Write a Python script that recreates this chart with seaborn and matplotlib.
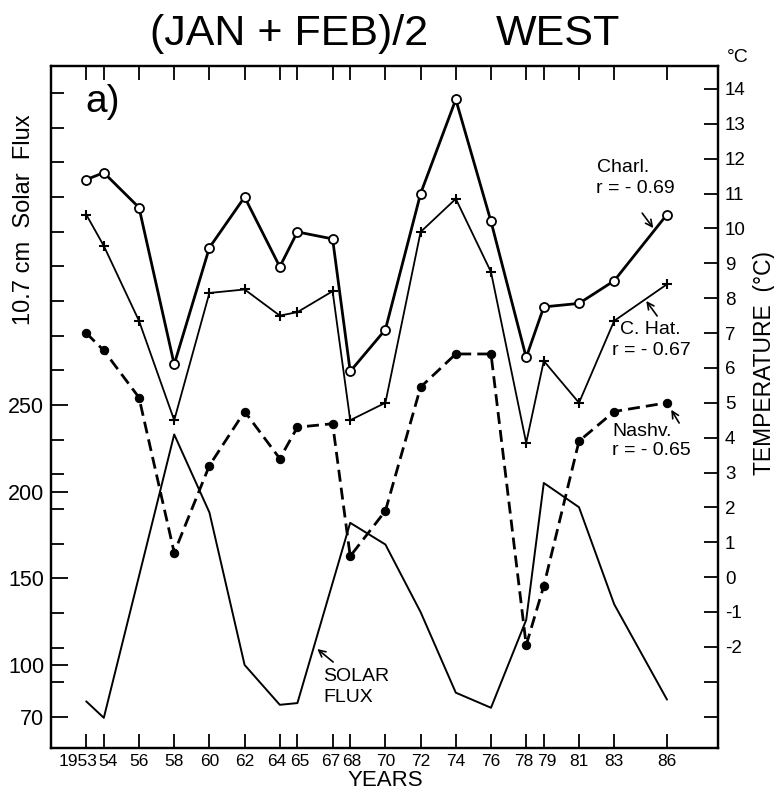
import matplotlib
matplotlib.use("Agg")
import matplotlib.pyplot as plt
from matplotlib.transforms import ScaledTranslation
import seaborn as sns

# temperature stations, (Jan+Feb)/2, deg C
years = [1953, 1954, 1956, 1958, 1960, 1962, 1964, 1965, 1967, 1968,
         1970, 1972, 1974, 1976, 1978, 1979, 1981, 1983, 1986]
charl = [11.4, 11.6, 10.6, 6.1, 9.45, 10.9, 8.9, 9.9, 9.7, 5.9,
         7.1, 11.0, 13.7, 10.2, 6.3, 7.75, 7.85, 8.5, 10.4]
c_hat = [10.4, 9.5, 7.35, 4.5, 8.15, 8.25, 7.5, 7.6, 8.2, 4.5,
         5.0, 9.9, 10.85, 8.75, 3.85, 6.2, 5.0, 7.35, 8.4]
nashv = [7.0, 6.5, 5.15, 0.7, 3.2, 4.75, 3.4, 4.3, 4.4, 0.6,
         1.9, 5.45, 6.4, 6.4, -1.95, -0.25, 3.9, 4.75, 5.0]

# 10.7 cm solar flux
flux_years = [1953, 1954, 1958, 1960, 1962, 1964, 1965, 1968, 1970,
              1972, 1974, 1976, 1978, 1979, 1981, 1983, 1986]
flux = [79, 69.5, 233, 188, 100, 77, 78, 182, 169.5,
        130.5, 84, 75.3, 126, 205, 191, 135, 80]

year_labels = ["1953", "54", "56", "58", "60", "62", "64", "65", "67", "68",
               "70", "72", "74", "76", "78", "79", "81", "83", "86"]
flux_ticks = [70, 100, 150, 200, 250]
temp_ticks = list(range(-4, 15))

sns.set_theme(style="white")
plt.rcParams["font.family"] = ["Liberation Sans", "DejaVu Sans"]
plt.rcParams.update({"text.color": "black", "axes.labelcolor": "black",
                     "xtick.color": "black", "ytick.color": "black"})

fig = plt.figure(figsize=(7.74, 7.91), dpi=100)
ax = fig.add_axes([0.0659, 0.0544, 0.8618, 0.8622])
ax2 = ax.twinx()

# solar flux on the left axis
sns.lineplot(x=flux_years, y=flux, ax=ax, color="black", linewidth=1.4,
             errorbar=None, sort=False)

# temperatures on the right axis
sns.lineplot(x=years, y=charl, ax=ax2, color="black", linewidth=2.0,
             marker="o", markersize=6.5, markerfacecolor="white",
             markeredgecolor="black", markeredgewidth=1.3, errorbar=None, sort=False)
sns.lineplot(x=years, y=c_hat, ax=ax2, color="black", linewidth=1.3,
             marker="+", markersize=7, markeredgewidth=1.5,
             markeredgecolor="black", errorbar=None, sort=False)
sns.lineplot(x=years, y=nashv, ax=ax2, color="black", linewidth=2.0,
             marker="o", markersize=6, markerfacecolor="black",
             markeredgecolor="black", errorbar=None, sort=False)
ax2.lines[-1].set_dashes([4.3, 2.2])

ax.set_xlim(1951.0, 1988.9)
ax.set_ylim(52.1, 445.6)
ax2.set_ylim(-4.9, 14.66)

# x ticks, top and bottom, pointing in
ax.set_xticks(years)
ax.set_xticklabels(year_labels, fontsize=12.5)
ax.tick_params(axis="x", which="major", direction="in", length=10, width=1.3,
               top=True, bottom=True, pad=4, color="black", labelcolor="black")
shifts = {"1953": -8, "54": 4, "64": -3, "65": 2, "67": -2, "68": 2, "78": -2, "79": 3}
for lab in ax.get_xticklabels():
    dx = shifts.get(lab.get_text(), 0)
    if dx:
        lab.set_transform(lab.get_transform() + ScaledTranslation(dx / 100, 0, fig.dpi_scale_trans))

# left axis: labelled major ticks and unlabelled ticks every 20 from 70
ax.set_yticks(flux_ticks)
ax.set_yticklabels([str(t) for t in flux_ticks], fontsize=15.5)
ax.set_yticks([v for v in range(70, 440, 20) if v not in flux_ticks], minor=True)
ax.tick_params(axis="y", which="major", direction="in", length=12.5, width=1.3,
               pad=5, color="black", labelcolor="black", left=True, right=False)
ax.tick_params(axis="y", which="minor", direction="in", length=9, width=1.3,
               color="black", left=True, right=False)

# right axis
ax2.set_yticks(temp_ticks)
ax2.set_yticklabels(["" if t < -2 else str(t) for t in temp_ticks], fontsize=13.5)
ax2.tick_params(axis="y", which="major", direction="in", length=10, width=1.3,
                pad=5, color="black", labelcolor="black", right=True, left=False)

for a in (ax, ax2):
    a.set_xlabel("")
    a.set_ylabel("")
    for sp in a.spines.values():
        sp.set_visible(True)
        sp.set_color("black")
        sp.set_linewidth(1.6)
    a.grid(False)

# title and axis labels
fig.text(150 / 774, 1 - 45 / 791, "(JAN + FEB)/2", fontsize=31, ha="left", va="baseline")
fig.text(496 / 774, 1 - 45 / 791, "WEST", fontsize=31, ha="left", va="baseline")
fig.text(24 / 774, 1 - 220 / 791, "10.7 cm  Solar  Flux", fontsize=17, rotation=90,
         ha="center", va="center")
fig.text(764 / 774, 1 - 363 / 791, "TEMPERATURE  (°C)", fontsize=16.5, rotation=90,
         ha="center", va="center")
fig.text(385 / 774, 1 - 780 / 791, "YEARS", fontsize=16, ha="center", va="center")
fig.text(738 / 774, 1 - 57 / 791, "°C", fontsize=14, ha="center", va="center")
ax.text(0.051, 0.9326, "a)", transform=ax.transAxes, fontsize=28, ha="left", va="baseline")

# station labels
note = dict(fontsize=14, ha="left", va="center")
ax2.text(1982.03, 11.76, "Charl.", **note)
ax2.text(1981.98, 11.16, "r = - 0.69", **note)
ax2.text(1983.34, 7.09, "C. Hat.", **note)
ax2.text(1982.89, 6.49, "r = - 0.67", **note)
ax2.text(1982.89, 4.19, "Nashv.", **note)
ax2.text(1982.89, 3.62, "r = - 0.65", **note)
ax.text(1966.47, 93.6, "SOLAR", **note)
ax.text(1966.47, 81.5, "FLUX", **note)

arrow = dict(arrowstyle="->", lw=1.2, color="black", mutation_scale=12, shrinkA=0, shrinkB=0)
ax2.annotate("", xy=(1985.22, 10.01), xytext=(1984.59, 10.44), arrowprops=arrow)
ax2.annotate("", xy=(1984.82, 7.92), xytext=(1985.44, 7.49), arrowprops=arrow)
ax2.annotate("", xy=(1986.24, 4.80), xytext=(1986.69, 4.42), arrowprops=arrow)
ax.annotate("", xy=(1966.13, 109.2), xytext=(1967.03, 101.7), arrowprops=arrow)

fig.savefig("out.png", dpi=100)
